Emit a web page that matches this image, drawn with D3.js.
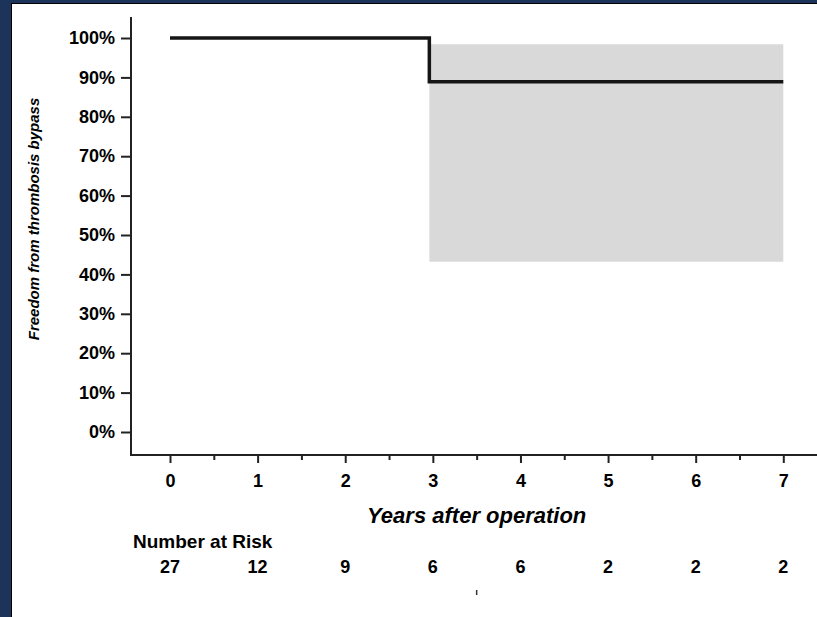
<!DOCTYPE html>
<html><head><meta charset="utf-8">
<script src="https://cdn.jsdelivr.net/npm/d3@7"></script>
<style>
html,body{margin:0;padding:0;background:#fff;}
svg{display:block;}
text{font-family:"Liberation Sans",Arial,sans-serif;fill:#000;}
</style></head>
<body><svg id="c" width="817" height="617"></svg>
<script>
// ---- data ----
const stepTimes = [0, 2.96, 7];
const survival = [1.0, 0.889, 0.889];
const ciTimes = [2.96, 7];
const ciLower = [0.432, 0.432];
const ciUpper = [0.984, 0.984];
const xTickValues = [0, 1, 2, 3, 4, 5, 6, 7];
const xMinorTicks = [0.5, 1.5, 2.5, 3.5, 4.5, 5.5, 6.5];
const yTickValues = [0, 0.1, 0.2, 0.3, 0.4, 0.5, 0.6, 0.7, 0.8, 0.9, 1.0];
const atRisk = [27, 12, 9, 6, 6, 2, 2, 2];
const yTitle = "Freedom from thrombosis bypass";
const xTitle = "Years after operation";
const riskTitle = "Number at Risk";

const svg = d3.select("#c");
const W = 817, H = 617;
svg.append("rect").attr("width", W).attr("height", H).attr("fill", "#fff");
// frame
const navy = "#1c335a";
svg.append("rect").attr("x", 0).attr("y", 0).attr("width", 11).attr("height", H).attr("fill", navy);
svg.append("rect").attr("x", 0).attr("y", 0).attr("width", W).attr("height", 3).attr("fill", navy);
svg.append("line").attr("x1", 11.5).attr("x2", 11.5).attr("y1", 3).attr("y2", H).attr("stroke", "#000").attr("stroke-width", 1);
svg.append("line").attr("x1", 11).attr("x2", W).attr("y1", 3.5).attr("y2", 3.5).attr("stroke", "#000").attr("stroke-width", 1);

const x = d3.scaleLinear().domain([0, 7]).range([170, 783.3]);
const y = d3.scaleLinear().domain([0, 1]).range([432, 38]);
const axX = 131, axY = 455;

// CI band
const band = ciTimes.map((t, i) => ({t, lo: ciLower[i], hi: ciUpper[i]}));
svg.append("path").datum(band)
  .attr("d", d3.area().x(d => x(d.t)).y0(d => y(d.lo)).y1(d => y(d.hi)).curve(d3.curveStepAfter))
  .attr("fill", "#d9d9d9");

// survival curve
const curve = stepTimes.map((t, i) => ({t, s: survival[i]}));
svg.append("path").datum(curve)
  .attr("d", d3.line().x(d => x(d.t)).y(d => y(d.s)).curve(d3.curveStepAfter))
  .attr("fill", "none").attr("stroke", "#151515").attr("stroke-width", 3.5)
  .attr("stroke-linejoin", "miter");

// axes lines
svg.append("line").attr("x1", axX).attr("x2", axX).attr("y1", 17).attr("y2", axY + 1)
  .attr("stroke", "#222").attr("stroke-width", 2);
svg.append("line").attr("x1", axX - 1).attr("x2", W).attr("y1", axY).attr("y2", axY)
  .attr("stroke", "#222").attr("stroke-width", 2);

const FF = "Liberation Sans, Arial, sans-serif";
// y axis ticks
const yAxis = svg.append("g").attr("transform", `translate(${axX},0)`)
  .call(d3.axisLeft(y).tickValues(yTickValues).tickSize(10).tickPadding(6).tickFormat(d3.format(".0%")));
yAxis.select(".domain").remove();
yAxis.selectAll(".tick line").attr("stroke", "#222").attr("stroke-width", 2);
yAxis.selectAll(".tick text").attr("font-size", 18).attr("font-weight", "bold")
  .attr("font-family", FF).attr("fill", "#000");

// x axis ticks
const xAxis = svg.append("g").attr("transform", `translate(0,${axY})`)
  .call(d3.axisBottom(x).tickValues(xTickValues).tickSize(8).tickPadding(11).tickFormat(d3.format("d")));
xAxis.select(".domain").remove();
xAxis.selectAll(".tick line").attr("stroke", "#222").attr("stroke-width", 2);
xAxis.selectAll(".tick text").attr("font-size", 18).attr("font-weight", "bold")
  .attr("font-family", FF).attr("fill", "#000");
const xMinor = svg.append("g").attr("transform", `translate(0,${axY})`)
  .call(d3.axisBottom(x).tickValues(xMinorTicks).tickSize(5).tickFormat(""));
xMinor.select(".domain").remove();
xMinor.selectAll(".tick line").attr("stroke", "#222").attr("stroke-width", 2);

// titles
svg.append("text").attr("x", x(3.5)).attr("y", 523).attr("text-anchor", "middle")
  .attr("font-size", 22).attr("font-weight", "bold").attr("font-style", "italic").text(xTitle);
svg.append("text").attr("transform", `translate(39,219) rotate(-90)`).attr("text-anchor", "middle")
  .attr("font-size", 15).attr("font-weight", "bold").attr("font-style", "italic").text(yTitle);

// number at risk
svg.append("text").attr("x", 133).attr("y", 548).attr("font-size", 19).attr("font-weight", "bold").text(riskTitle);
svg.append("g").selectAll("text").data(atRisk).join("text")
  .attr("x", (d, i) => x(xTickValues[i])).attr("y", 573).attr("text-anchor", "middle")
  .attr("font-size", 18).attr("font-weight", "bold").text(d => d);

// small stray mark below the table
svg.append("line").attr("x1", x(3.5)).attr("x2", x(3.5)).attr("y1", 590).attr("y2", 595)
  .attr("stroke", "#333").attr("stroke-width", 1.5);
</script></body></html>
